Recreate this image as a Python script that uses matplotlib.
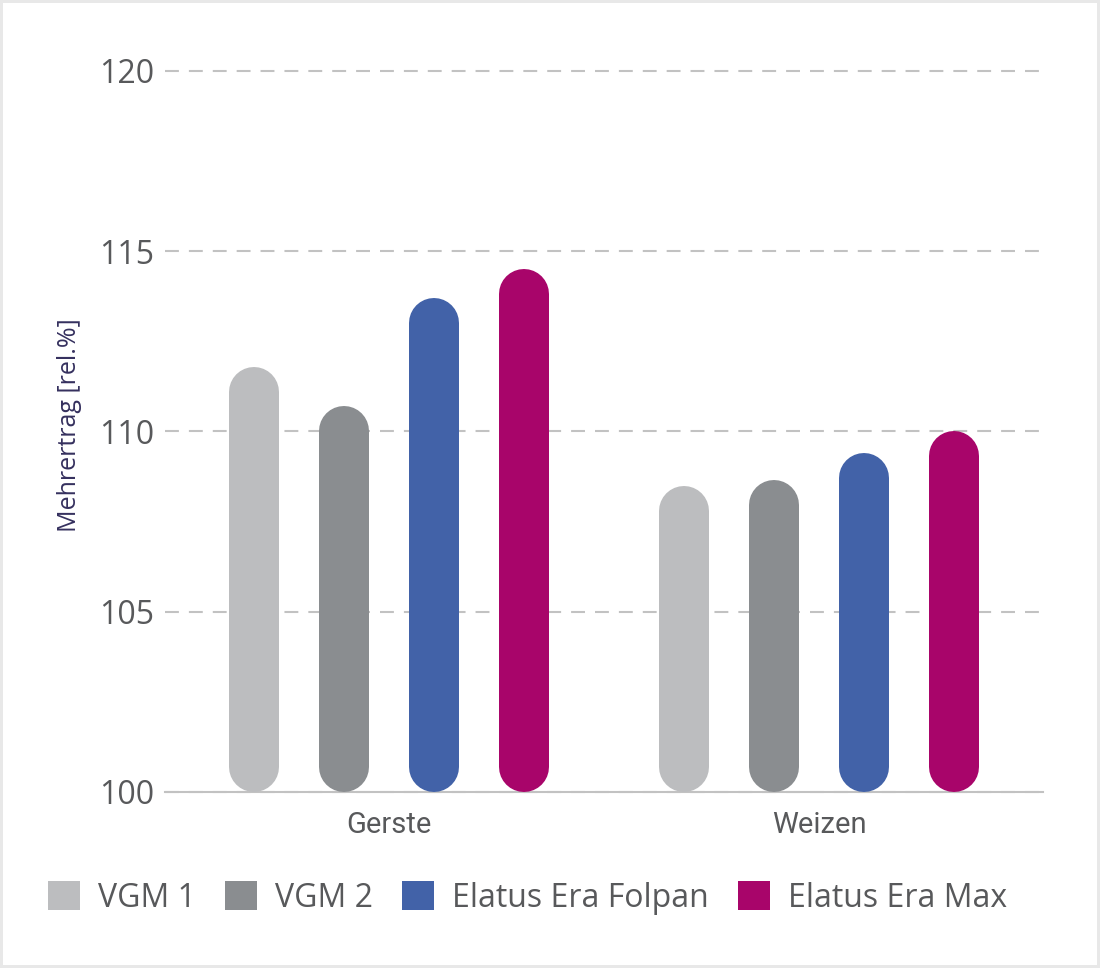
import matplotlib
matplotlib.use("Agg")
import matplotlib.pyplot as plt
from matplotlib.patches import Patch
import numpy as np

plt.rcParams['lines.scale_dashes'] = False

categories = ["Gerste", "Weizen"]
series = ["VGM 1", "VGM 2", "Elatus Era Folpan", "Elatus Era Max"]
values = {
    "VGM 1": [111.8, 108.5],
    "VGM 2": [110.7, 108.65],
    "Elatus Era Folpan": [113.7, 109.4],
    "Elatus Era Max": [114.5, 110.0],
}
colors = ["#bcbdbf", "#8a8d90", "#4262a8", "#a8056a"]
yticks = [100, 105, 110, 115, 120]

W, H, DPI = 1100, 968, 100
fig = plt.figure(figsize=(W / DPI, H / DPI), dpi=DPI,
                 edgecolor="#e8e8e8", linewidth=3)
ax = fig.add_axes([165 / W, 1 - 792 / H, (1043 - 165) / W, (792 - 71) / H])

ax.set_ylim(100, 120)
ax.set_xlim(-0.52, 1.52)

# geometry: bar width in px -> round caps radius in data units
bar_px = 50
ax_h_px = (792 - 71)
px_per_unit = ax_h_px / (120 - 100)
r = (bar_px / 2) / px_per_unit
lw_pt = bar_px * 72 / DPI
step = 90 / 430.4

x = np.arange(len(categories))
for i, (s, c) in enumerate(zip(series, colors)):
    for g, v in zip(x, values[s]):
        xp = g + (i - 1.5) * step
        ax.plot([xp, xp], [100 + r, v - r], color=c, lw=lw_pt,
                solid_capstyle="round", clip_on=False, zorder=3)

ax.set_yticks(yticks)
ax.set_yticklabels([str(t) for t in yticks], fontsize=23, color="#58595b",
                   fontfamily="Open Sans")
ax.set_xticks(x)
ax.set_xticklabels(categories, fontsize=21, color="#58595b", fontfamily="Roboto")
ax.tick_params(axis="y", length=0, pad=8)
ax.tick_params(axis="x", length=0, pad=14)

ax.yaxis.grid(True, color="#c2c2c2", lw=1.5, linestyle=(0, (10, 7.2)))
for gl in ax.get_ygridlines():
    gl.set_clip_on(False)
ax.set_axisbelow(True)
for sp in ["left", "right", "top"]:
    ax.spines[sp].set_visible(False)
ax.spines["bottom"].set_color("#c2c2c2")
ax.spines["bottom"].set_linewidth(1.5)
ax.spines["bottom"].set_zorder(2)

fig.text(69 / W, 1 - 425 / H, "Mehrertrag [rel.%]", rotation=90,
         ha="center", va="center", fontsize=18, color="#35305e",
         fontfamily="Open Sans")

handles = [Patch(facecolor=c, edgecolor="none", label=s) for s, c in zip(series, colors)]
leg = fig.legend(handles=handles, loc="center left",
                 bbox_to_anchor=(48 / W, 1 - 898 / H), ncol=4, frameon=False,
                 prop={"family": "Open Sans", "size": 23},
                 handlelength=1.0, handleheight=1.0, handletextpad=0.56,
                 columnspacing=0.92, borderpad=0, borderaxespad=0)
for t in leg.get_texts():
    t.set_color("#58595b")

fig.savefig("out.png", dpi=DPI, facecolor="white", edgecolor=fig.get_edgecolor())
